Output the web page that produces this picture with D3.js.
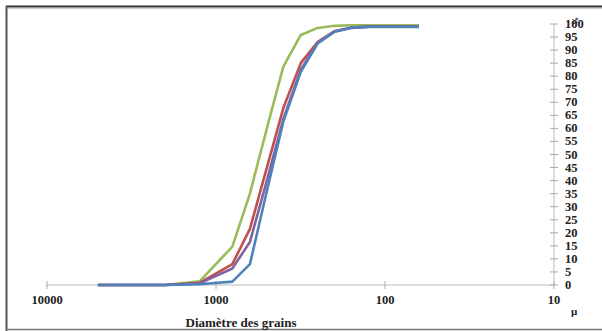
<!DOCTYPE html>
<html><head><meta charset="utf-8">
<script src="https://cdn.jsdelivr.net/npm/d3@7"></script>
<style>body{margin:0;background:#fff}svg{display:block}text{font-family:"Liberation Serif","Times New Roman",serif;font-weight:bold;fill:#222}</style>
</head><body><svg id="c" width="602" height="331"></svg>
<script>
const sieves = [5000, 2000, 1250, 800, 630, 500, 400, 315, 250, 200, 160, 125, 100, 80, 63];
const green  = [0, 0, 1.4, 14.7, 35, 60, 83.6, 95.8, 98.5, 99.3, 99.5, 99.5, 99.5, 99.5, 99.5];
const red    = [0, 0, 0.8, 8, 21.5, 45, 67.7, 85, 93.2, 97.2, 98.6, 99, 99, 99, 99];
const purple = [0, 0, 0.6, 6.3, 16.5, 40, 63.5, 82.5, 92.8, 97, 98.5, 99, 99, 99, 99];
const blue   = [0, 0, 0.3, 1.3, 8, 36, 62.5, 81.7, 92.6, 97, 98.5, 98.9, 98.9, 98.9, 98.9];
const seriesColors = ["#9BBB59", "#C0504D", "#8064A2", "#4F81BD"];
const xTicks = [10000, 1000, 100, 10];
const yTicks = d3.range(0, 101, 5);

const svg = d3.select("#c");
const x = d3.scaleLog().domain([10000, 10]).range([47, 554]);
const y = d3.scaleLinear().domain([0, 100]).range([285, 24]);

// frame
svg.append("line").attr("x1",6).attr("x2",602).attr("y1",6.5).attr("y2",6.5).attr("stroke","#333").attr("stroke-width",2);
svg.append("line").attr("x1",7).attr("x2",602).attr("y1",8.5).attr("y2",8.5).attr("stroke","#ccc").attr("stroke-width",1);
svg.append("line").attr("x1",6.5).attr("x2",6.5).attr("y1",6).attr("y2",331).attr("stroke","#555").attr("stroke-width",2);
svg.append("line").attr("x1",6).attr("x2",602).attr("y1",329.5).attr("y2",329.5).attr("stroke","#777").attr("stroke-width",1.5);

// x axis
const gx = svg.append("g").attr("transform","translate(0,285)");
gx.append("line").attr("x1",x(10000)).attr("x2",x(10)).attr("stroke","#bbb");
xTicks.forEach(t=>{
  gx.append("line").attr("x1",x(t)).attr("x2",x(t)).attr("y1",-4).attr("y2",4).attr("stroke","#aaa");
  gx.append("text").attr("x",x(t)).attr("y",19).attr("text-anchor","middle").attr("font-size",12.5).text(d3.format("d")(t));
});
svg.append("text").attr("x",241).attr("y",327).attr("text-anchor","middle").attr("font-size",13).text("Diamètre des grains");
svg.append("text").attr("x",571).attr("y",315).attr("font-size",11).text("µ");

// y axis
const gy = svg.append("g").attr("transform","translate(554,0)");
gy.append("line").attr("y1",y(0)).attr("y2",y(100)).attr("stroke","#bbb");
yTicks.forEach(t=>{
  gy.append("line").attr("x1",-4).attr("x2",4).attr("y1",y(t)).attr("y2",y(t)).attr("stroke","#aaa");
  gy.append("text").attr("x",11).attr("y",y(t)+4).attr("font-size",12.5).text(t);
});
svg.append("text").attr("transform","translate(578,21) rotate(-90)").attr("font-size",8).attr("text-anchor","middle").text("%");

// lines
const line = d3.line().x((d,i)=>x(sieves[i])).y(d=>y(d));
[green, red, purple, blue].forEach((s,k)=>{
  svg.append("path").datum(s).attr("d",line).attr("fill","none").attr("stroke",seriesColors[k]).attr("stroke-width",2.6).attr("stroke-linejoin","round");
});
</script></body></html>
